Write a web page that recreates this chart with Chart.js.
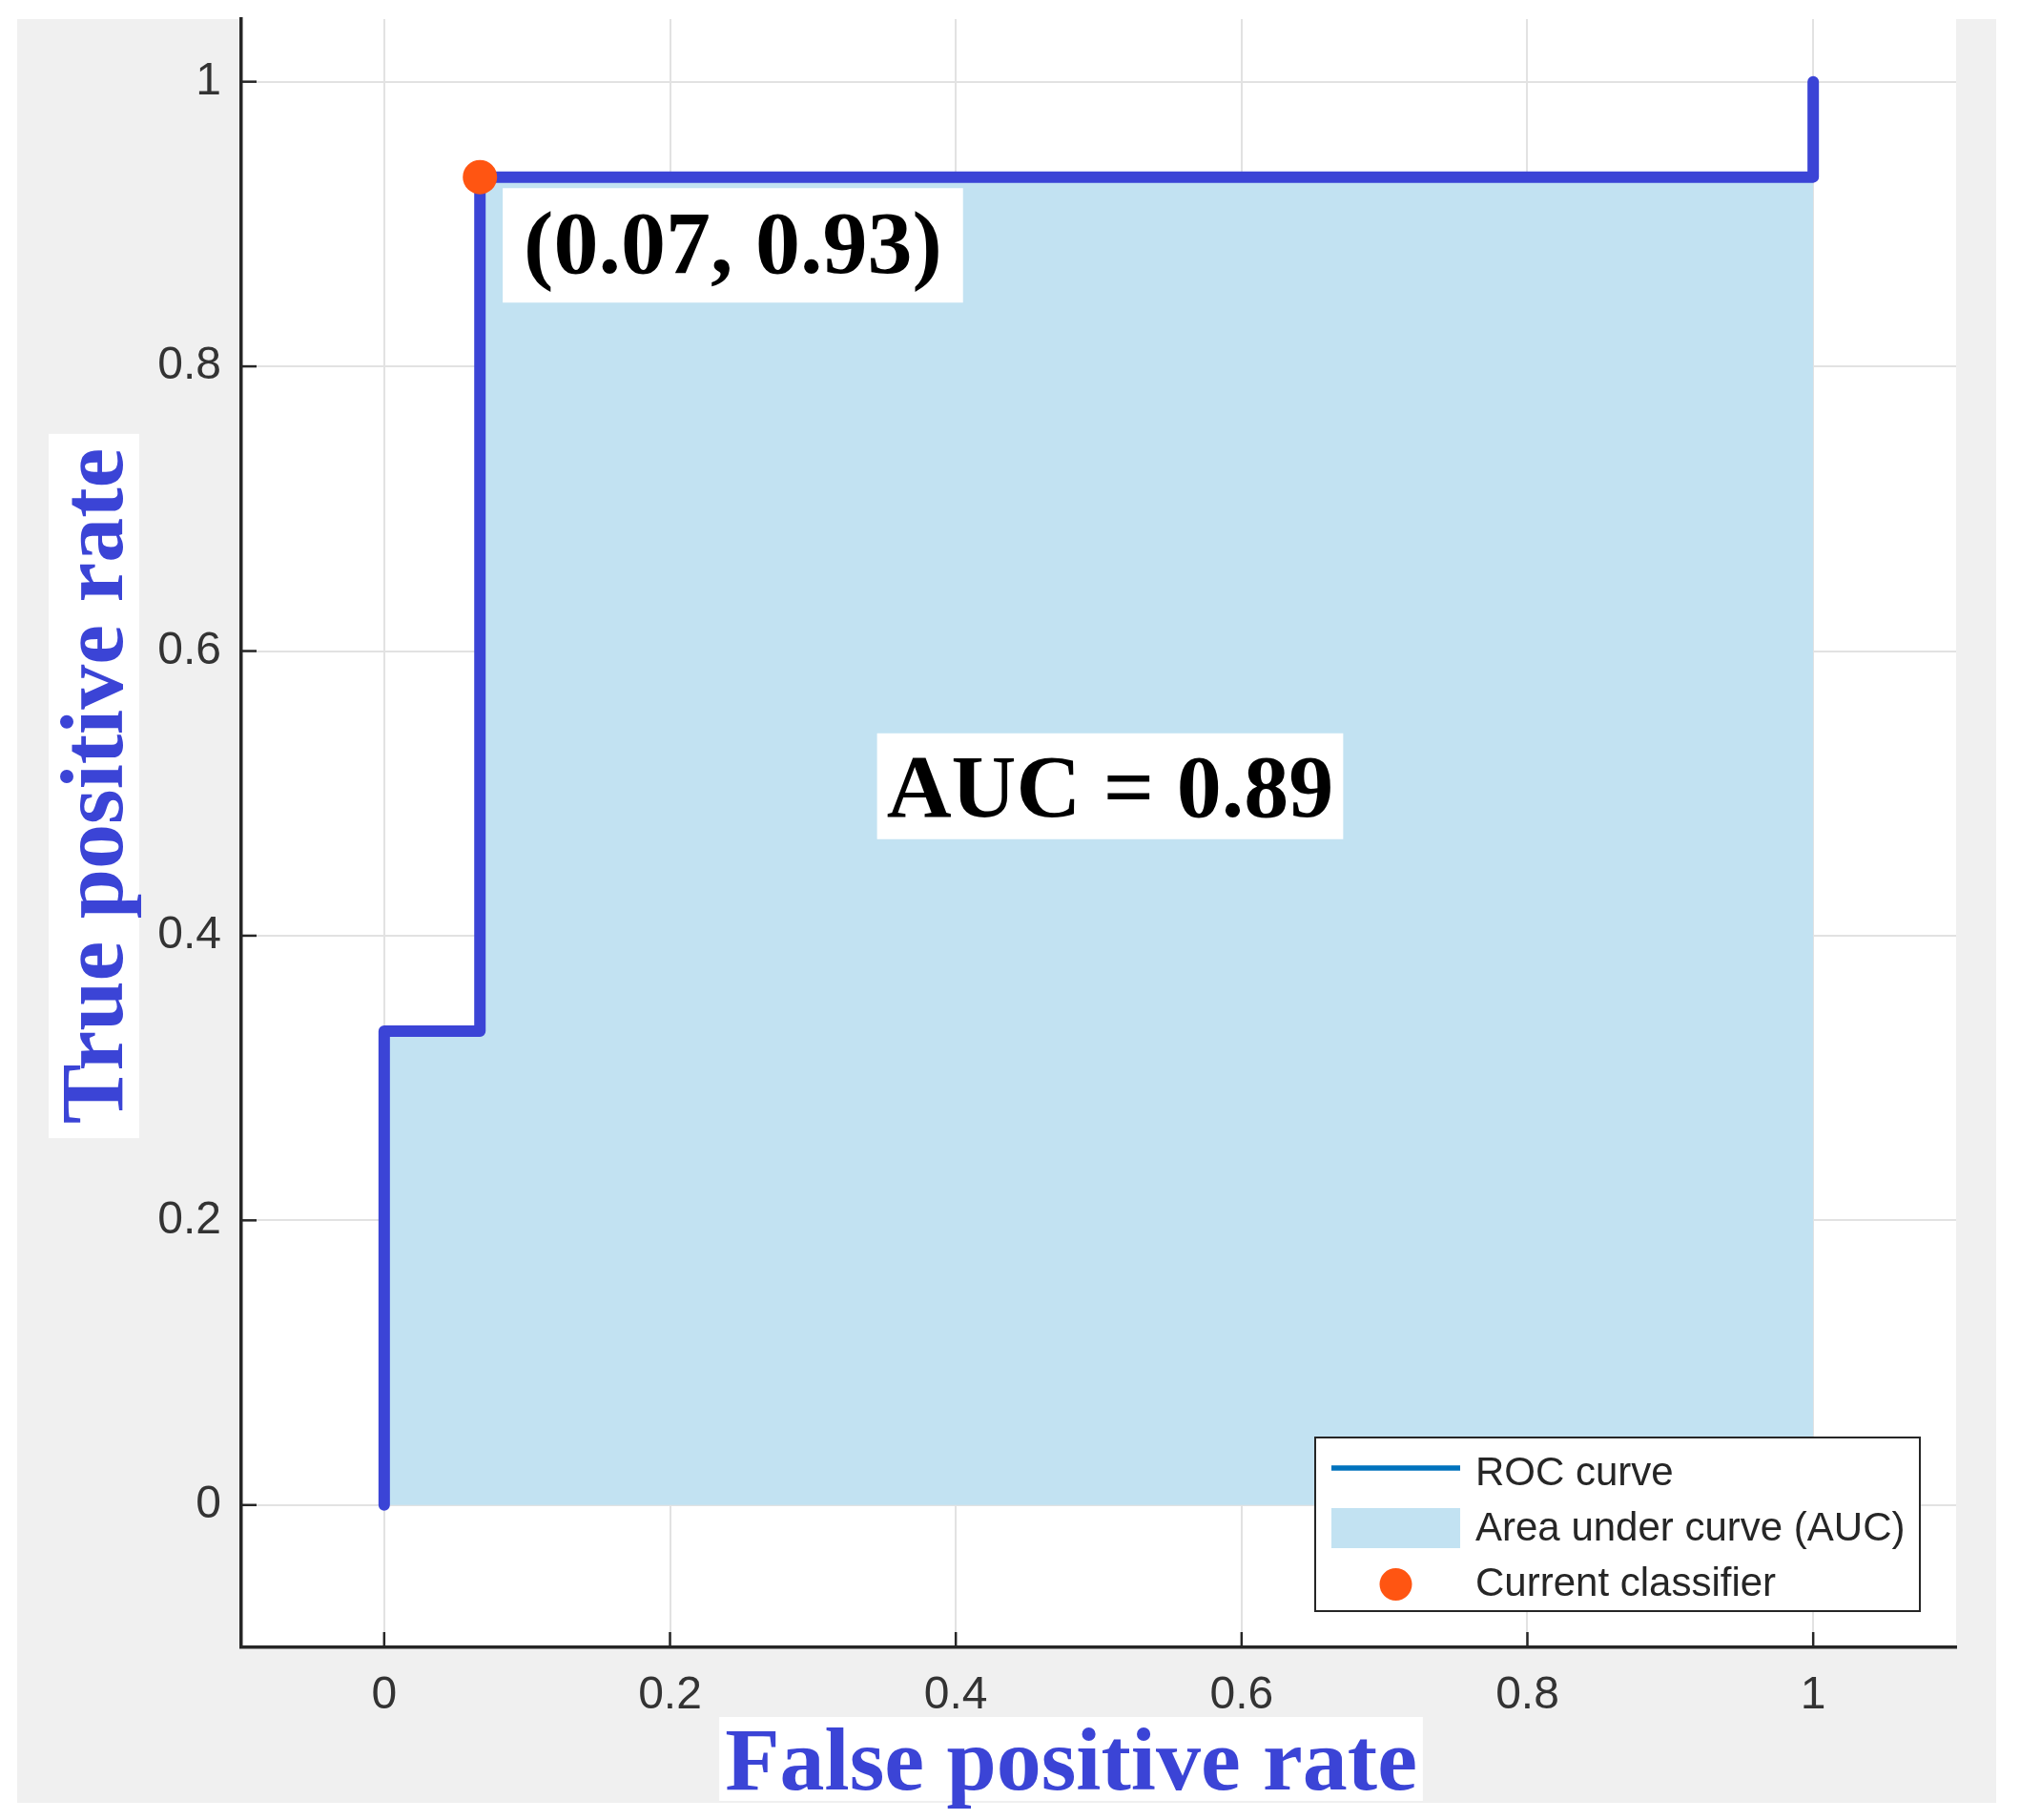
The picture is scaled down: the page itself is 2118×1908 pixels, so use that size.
<!DOCTYPE html>
<html><head><meta charset="utf-8">
<script src="https://cdn.jsdelivr.net/npm/chart.js@4.4.1/dist/chart.umd.min.js"></script>
<style>html,body{margin:0;padding:0;background:#fff;}canvas{display:block;}</style>
</head><body>
<canvas id="c" width="2118" height="1908" style="width:2118px;height:1908px"></canvas>
<script>
// ---- data ----
const fpr = [0, 0, 0.067, 0.067, 1, 1];
const tpr = [0, 0.333, 0.333, 0.933, 0.933, 1];
const classifierFpr = [0.067];
const classifierTpr = [0.933];
const xTickValues = [0, 0.2, 0.4, 0.6, 0.8, 1];
const xTickLabels = ['0', '0.2', '0.4', '0.6', '0.8', '1'];
const yTickValues = [0, 0.2, 0.4, 0.6, 0.8, 1];
const yTickLabels = ['0', '0.2', '0.4', '0.6', '0.8', '1'];
const seriesLabels = ['ROC curve', 'Area under curve (AUC)', 'Current classifier'];
const pointLabel = '(0.07, 0.93)';
const aucLabel = 'AUC = 0.89';
const xTitle = 'False positive rate';
const yTitle = 'True positive rate';

const BLUE = '#3b44d6';
const FILL = '#c2e2f2';
const ORANGE = '#ff5512';
const AXIS = '#262626';

const toXY = (xs, ys) => xs.map((x, i) => ({x: x, y: ys[i]}));

const bgPlugin = {
  id: 'bg',
  beforeDraw(chart) {
    const {ctx, chartArea: a} = chart;
    ctx.save();
    ctx.fillStyle = '#ffffff';
    ctx.fillRect(0, 0, chart.width, chart.height);
    ctx.fillStyle = '#f0f0f0';
    ctx.fillRect(18, 20, 2093 - 18, 1890 - 20);
    ctx.fillStyle = '#ffffff';
    ctx.fillRect(a.left, a.top, a.right - a.left, a.bottom - a.top);
    ctx.restore();
  }
};

const annotations = [
  {text: pointLabel, x: 0.244, y: 0.885, padX: 22, h: 120, base: 29},
  {text: aucLabel, x: 0.508, y: 0.505, padX: 10, h: 111, base: 32}
];

const overlayPlugin = {
  id: 'overlay',
  afterDatasetsDraw(chart) {
    const {ctx, scales: {x, y}} = chart;
    ctx.save();
    ctx.font = 'bold 94px "Liberation Serif", "Times New Roman", serif';
    annotations.forEach(an => {
      const cx = x.getPixelForValue(an.x), cy = y.getPixelForValue(an.y);
      const w = ctx.measureText(an.text).width + 2 * an.padX;
      ctx.fillStyle = '#ffffff';
      ctx.fillRect(cx - w / 2, cy - an.h / 2, w, an.h);
      ctx.fillStyle = '#000000';
      ctx.textAlign = 'center';
      ctx.textBaseline = 'alphabetic';
      ctx.fillText(an.text, cx, cy + an.base);
    });
    ctx.restore();
  },
  afterDraw(chart) {
    const {ctx, chartArea: a, scales: {x, y}} = chart;
    ctx.save();
    // inward ticks
    ctx.strokeStyle = AXIS;
    ctx.lineWidth = 2.5;
    xTickValues.forEach(v => {
      const px = x.getPixelForValue(v);
      ctx.beginPath(); ctx.moveTo(px, a.bottom); ctx.lineTo(px, a.bottom - 16); ctx.stroke();
    });
    yTickValues.forEach(v => {
      const py = y.getPixelForValue(v);
      ctx.beginPath(); ctx.moveTo(a.left, py); ctx.lineTo(a.left + 16, py); ctx.stroke();
    });

    // axis titles
    ctx.font = 'bold 94px "Liberation Serif", "Times New Roman", serif';
    let tw = ctx.measureText(xTitle).width;
    const xcx = 1123;
    ctx.fillStyle = '#ffffff';
    ctx.fillRect(xcx - tw / 2 - 6, 1800, tw + 12, 88);
    ctx.fillStyle = BLUE;
    ctx.textAlign = 'center';
    ctx.textBaseline = 'alphabetic';
    ctx.fillText(xTitle, xcx, 1876);

    tw = ctx.measureText(yTitle).width;
    const ycy = 824;
    ctx.fillStyle = '#ffffff';
    ctx.fillRect(51, ycy - tw / 2 - 15, 95, tw + 30);
    ctx.save();
    ctx.translate(128, ycy);
    ctx.rotate(-Math.PI / 2);
    ctx.fillStyle = BLUE;
    ctx.fillText(yTitle, 0, 0);
    ctx.restore();

    // legend
    const L = a.right - 672, T = a.bottom - 220, R = a.right - 38, B = a.bottom - 38;
    ctx.fillStyle = '#ffffff';
    ctx.fillRect(L, T, R - L, B - T);
    ctx.strokeStyle = AXIS;
    ctx.lineWidth = 2;
    ctx.strokeRect(L, T, R - L, B - T);
    const ds = chart.data.datasets;
    const rows = [T + 38, T + 96, T + 154];
    const sx0 = L + 17, sx1 = L + 152, tx = L + 168;
    ctx.font = '42px "Liberation Sans", Arial, sans-serif';
    ctx.textAlign = 'left';
    ctx.textBaseline = 'middle';
    ctx.strokeStyle = ds[0].legendColor;
    ctx.lineWidth = 5.5;
    ctx.beginPath(); ctx.moveTo(sx0, rows[0] - 6); ctx.lineTo(sx1, rows[0] - 6); ctx.stroke();
    ctx.fillStyle = ds[1].backgroundColor;
    ctx.fillRect(sx0, rows[1] - 22, sx1 - sx0, 42);
    ctx.fillStyle = ds[2].backgroundColor;
    ctx.beginPath(); ctx.arc((sx0 + sx1) / 2, rows[2], 17, 0, Math.PI * 2); ctx.fill();
    ctx.fillStyle = AXIS;
    ctx.fillText(ds[0].label, tx, rows[0]);
    ctx.fillText(ds[1].label, tx, rows[1]);
    ctx.fillText(ds[2].label, tx, rows[2]);
    ctx.restore();
  }
};

const tickFont = {family: '"Liberation Sans", Arial, sans-serif', size: 48};

new Chart(document.getElementById('c'), {
  type: 'scatter',
  data: {
    datasets: [
      {label: seriesLabels[0], data: toXY(fpr, tpr), showLine: true, borderColor: BLUE, legendColor: '#0072bd',
       borderWidth: 12, pointRadius: 0, fill: false, borderCapStyle: 'round', borderJoinStyle: 'round', order: 1},
      {label: seriesLabels[1], data: toXY(fpr, tpr), showLine: true, borderWidth: 0, borderColor: 'rgba(0,0,0,0)',
       backgroundColor: FILL, pointRadius: 0, fill: 'origin', order: 3},
      {label: seriesLabels[2], data: toXY(classifierFpr, classifierTpr), backgroundColor: ORANGE, borderWidth: 0,
       pointRadius: 18, order: 0}
    ]
  },
  options: {
    responsive: false,
    animation: false,
    devicePixelRatio: 1,
    layout: {padding: {top: 20, right: 67, left: 0, bottom: 0}},
    plugins: {legend: {display: false}, tooltip: {enabled: false}, title: {display: false}},
    scales: {
      x: {
        type: 'linear', min: -0.1, max: 1.1,
        afterBuildTicks: s => { s.ticks = xTickValues.map(v => ({value: v})); },
        afterFit: s => { s.height = 181; s.paddingLeft = 0; s.paddingRight = 0; },
        ticks: {font: tickFont, color: '#333333', padding: 22,
                callback: v => xTickLabels[xTickValues.findIndex(t => Math.abs(t - v) < 1e-9)]},
        grid: {color: '#e2e2e2', lineWidth: 2, drawTicks: false},
        border: {display: true, color: AXIS, width: 3.5}
      },
      y: {
        type: 'linear', min: -0.1, max: 1.044,
        afterBuildTicks: s => { s.ticks = yTickValues.map(v => ({value: v})); },
        afterFit: s => { s.width = 253; s.paddingTop = 0; s.paddingBottom = 0; },
        ticks: {font: tickFont, color: '#333333', padding: 21,
                callback: v => yTickLabels[yTickValues.findIndex(t => Math.abs(t - v) < 1e-9)]},
        grid: {color: '#e2e2e2', lineWidth: 2, drawTicks: false},
        border: {display: true, color: AXIS, width: 3.5}
      }
    }
  },
  plugins: [bgPlugin, overlayPlugin]
});
</script>
</body></html>
